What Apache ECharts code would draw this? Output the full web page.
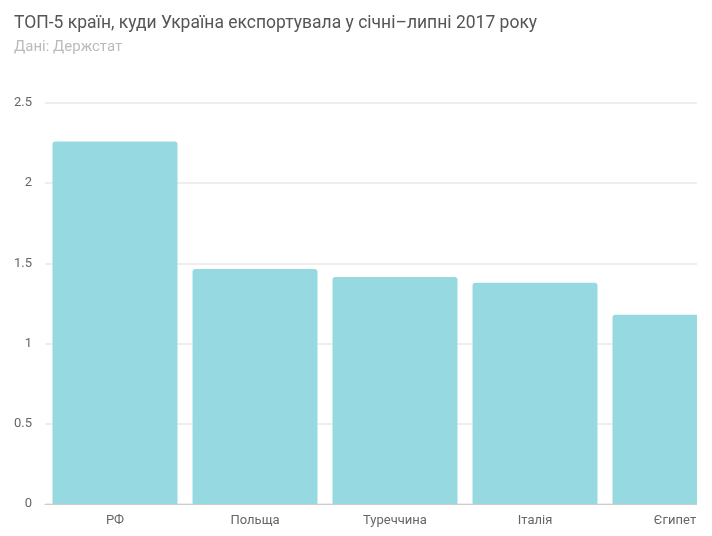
<!DOCTYPE html>
<html>
<head>
<meta charset="utf-8">
<script src="https://cdn.jsdelivr.net/npm/echarts@6/dist/echarts.min.js"></script>
<style>
html, body { margin: 0; padding: 0; background: #fff; overflow: hidden; }
.clip { width: 697px; height: 536px; overflow: hidden; }
#chart { width: 750px; height: 536px; }
</style>
</head>
<body>
<div class="clip"><div id="chart"></div></div>
<script>
const countries = ['РФ', 'Польща', 'Туреччина', 'Італія', 'Єгипет'];
const exportValues = [2.26, 1.465, 1.415, 1.38, 1.18];
const yTicks = [0, 0.5, 1, 1.5, 2, 2.5];

const chart = echarts.init(document.getElementById('chart'));
const option = {
    animation: false,
    textStyle: { fontFamily: 'Roboto' },
    title: {
        text: 'ТОП-5 країн, куди Україна експортувала у січні–липні 2017 року',
        subtext: 'Дані: Держстат',
        left: 9,
        top: 10,
        itemGap: 7,
        textStyle: { fontFamily: 'Roboto', fontSize: 17.5, fontWeight: 'normal', color: '#555' },
        subtextStyle: { fontFamily: 'Roboto', fontSize: 15, color: '#bbb' }
    },
    grid: { left: 45, right: 5, top: 103, bottom: 32 },
    xAxis: {
        type: 'category',
        data: countries,
        axisTick: { show: false },
        axisLine: { lineStyle: { color: '#ccc' } },
        axisLabel: { color: '#666', fontSize: 13, margin: 10 }
    },
    yAxis: {
        type: 'value',
        min: yTicks[0],
        max: yTicks[yTicks.length - 1],
        interval: 0.5,
        axisLine: { show: false },
        axisTick: { show: false },
        axisLabel: { color: '#666', fontSize: 13, margin: 13 },
        splitLine: { lineStyle: { color: '#eee', width: 2 } }
    },
    series: [{
        type: 'bar',
        data: exportValues,
        barWidth: 125,
        itemStyle: {
            color: '#97d9e1',
            borderRadius: [3, 3, 0, 0]
        }
    }]
};
chart.setOption(option);
</script>
</body>
</html>
